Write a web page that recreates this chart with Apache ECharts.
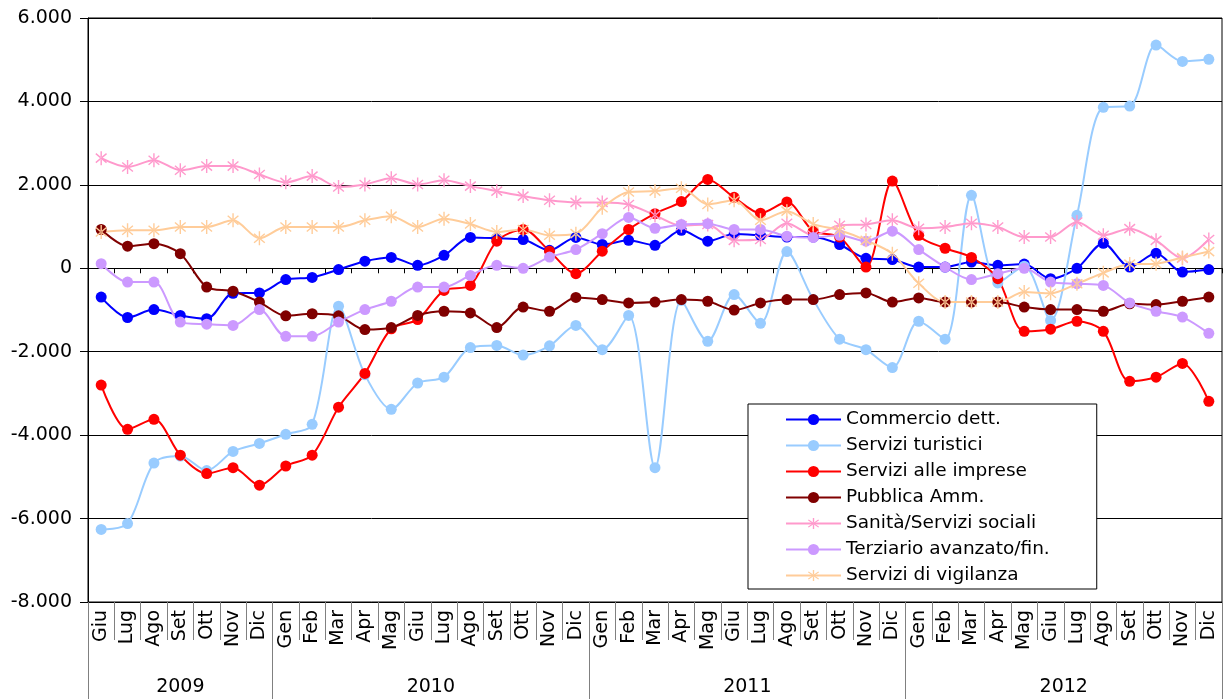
<!DOCTYPE html>
<html>
<head>
<meta charset="utf-8">
<script src="https://cdn.jsdelivr.net/npm/echarts@6/dist/echarts.min.js"></script>
<style>html,body{margin:0;padding:0;background:#fff;}#c{width:1225px;height:699px;}</style>
</head>
<body>
<div id="c"></div>
<script>
var months = ['Giu','Lug','Ago','Set','Ott','Nov','Dic',
  'Gen','Feb','Mar','Apr','Mag','Giu','Lug','Ago','Set','Ott','Nov','Dic',
  'Gen','Feb','Mar','Apr','Mag','Giu','Lug','Ago','Set','Ott','Nov','Dic',
  'Gen','Feb','Mar','Apr','Mag','Giu','Lug','Ago','Set','Ott','Nov','Dic'];
var years = ['2009','2010','2011','2012'];
var yearMonthCounts = [7,12,12,12];
var yTickValues = [-8000,-6000,-4000,-2000,0,2000,4000,6000];
var yTickLabels = ['-8.000','-6.000','-4.000','-2.000','0','2.000','4.000','6.000'];

var seriesNames = ['Commercio dett.','Servizi turistici','Servizi alle imprese','Pubblica Amm.','Sanità/Servizi sociali','Terziario avanzato/fin.','Servizi di vigilanza'];

var commercio = [-690,-1180,-990,-1130,-1210,-600,-590,
  -270,-220,-30,170,260,70,310,740,720,690,430,740,
  570,670,550,910,650,820,790,750,750,570,240,210,
  30,30,150,70,100,-250,0,600,30,360,-90,-30];
var turistici = [-6260,-6120,-4670,-4500,-4850,-4390,-4200,
  -3980,-3740,-910,-2550,-3380,-2750,-2610,-1900,-1850,-2080,-1860,-1370,
  -1950,-1130,-4780,-770,-1750,-630,-1320,400,-750,-1700,-1950,-2380,
  -1270,-1700,1750,-350,50,-1250,1270,3860,3890,5350,4960,5010];
var imprese = [-2800,-3860,-3620,-4480,-4920,-4780,-5200,
  -4740,-4480,-3330,-2520,-1450,-1230,-530,-410,650,930,410,-130,
  410,930,1310,1600,2130,1700,1320,1590,890,750,30,2090,
  790,480,260,-250,-1510,-1460,-1270,-1510,-2710,-2610,-2280,-3190];
var pubblica = [930,530,590,350,-450,-550,-810,
  -1140,-1090,-1140,-1470,-1420,-1130,-1030,-1070,-1420,-930,-1030,-700,
  -750,-830,-810,-750,-790,-1000,-830,-750,-750,-630,-590,-810,
  -710,-810,-810,-810,-930,-990,-990,-1030,-850,-870,-790,-690];
var sanita = [2640,2430,2590,2350,2450,2450,2250,
  2060,2210,1950,2010,2160,2010,2110,1970,1850,1730,1630,1580,
  1580,1530,1270,1020,1050,670,690,1080,790,1030,1050,1150,
  960,990,1080,990,750,750,1110,790,950,670,240,690];
var terziario = [110,-330,-330,-1290,-1340,-1370,-990,
  -1630,-1630,-1290,-990,-790,-450,-450,-170,70,0,270,450,
  830,1220,960,1050,1070,930,930,770,740,790,650,890,
  450,30,-270,-130,0,-330,-370,-410,-830,-1030,-1170,-1560];
var vigilanza = [870,910,910,990,990,1150,720,
  990,990,990,1150,1250,990,1190,1060,870,930,790,830,
  1450,1830,1850,1920,1530,1630,1150,1370,1060,910,670,350,
  -360,-810,-810,-810,-570,-600,-370,-110,100,110,260,400];

var seriesData = [commercio,turistici,imprese,pubblica,sanita,terziario,vigilanza];
var colors = ['#0000FF','#99CCFF','#FF0000','#800000','#FF99CC','#CC99FF','#FFCC99'];
var star = 'path://M-0.1,-1L0.1,-1L0.1,1L-0.1,1Z' +
  'M0.702,0.720L0.830,0.566L-0.702,-0.720L-0.830,-0.566Z' +
  'M0.830,-0.566L0.702,-0.720L-0.830,0.566L-0.702,0.720Z';
var symbols = ['circle','circle','circle','circle',star,'circle',star];

// year boundaries and centres in month units
var yearBounds = [0], yearCentres = [];
(function(){var acc=0;for(var i=0;i<yearMonthCounts.length;i++){yearCentres.push(acc+yearMonthCounts[i]/2);acc+=yearMonthCounts[i];yearBounds.push(acc);}})();

var FONT = 'DejaVu Sans';
var chart = echarts.init(document.getElementById('c'), null, {renderer:'canvas'});
var series = seriesData.map(function(d,i){
  var isStar = symbols[i] === star;
  return {
    name: seriesNames[i], type: 'line', data: d, xAxisIndex: 0, yAxisIndex: 0,
    smooth: 0.3, symbol: symbols[i], symbolSize: isStar ? 14 : 11, symbolKeepAspect: true,
    showAllSymbol: true, animation: false,
    lineStyle: {color: colors[i], width: 2},
    itemStyle: {color: colors[i], borderWidth: 0},
    emphasis: {disabled: true}
  };
});

chart.setOption({
  animation: false,
  backgroundColor: '#fff',
  grid: {left: 88, right: 3, top: 18, bottom: 97, show: true, borderColor: '#000', borderWidth: 1},
  legend: {
    orient: 'vertical', left: 748, top: 404,
    padding: [6, 47, 4, 37], itemWidth: 55, itemHeight: 14, itemGap: 7,
    backgroundColor: '#fff', borderColor: '#000', borderWidth: 1, borderRadius: 0,
    textStyle: {fontFamily: FONT, fontSize: 18.5, color: '#000'},
    data: seriesNames
  },
  xAxis: [
    {
      type: 'category', data: months, boundaryGap: true, position: 'bottom',
      axisLine: {onZero: false, lineStyle: {color: '#000', width: 1}},
      axisTick: {show: true, interval: 0, length: 38, lineStyle: {color: '#808080'}},
      axisLabel: {interval: 0, rotate: 90, margin: 8, fontFamily: FONT, fontSize: 19, color: '#000'},
      splitLine: {show: false}
    },
    {
      type: 'value', min: 0, max: 43, position: 'bottom', offset: 0,
      axisLine: {show: false, onZero: false},
      axisTick: {show: true, customValues: yearBounds, length: 97, lineStyle: {color: '#808080'}},
      axisLabel: {show: true, customValues: yearCentres, margin: 76, fontFamily: FONT, fontSize: 19, color: '#000',
        formatter: function(v){var k = yearCentres.indexOf(v); return k >= 0 ? years[k] : '';}},
      splitLine: {show: false}
    },
    {
      type: 'category', data: months, boundaryGap: true, position: 'bottom',
      axisLine: {show: true, onZero: true, onZeroAxisIndex: 0, lineStyle: {color: '#000', width: 1}},
      axisTick: {show: true, interval: 0, length: 5, lineStyle: {color: '#000'}},
      axisLabel: {show: false},
      splitLine: {show: false}
    }
  ],
  yAxis: [{
    type: 'value', min: -8000, max: 6000, interval: 2000,
    axisLine: {show: true, onZero: false, lineStyle: {color: '#000'}},
    axisTick: {show: true, length: 8, lineStyle: {color: '#000'}},
    axisLabel: {margin: 16, fontFamily: FONT, fontSize: 19, color: '#000',
      formatter: function(v){var k = yTickValues.indexOf(v); return k >= 0 ? yTickLabels[k] : '';}},
    splitLine: {show: true, lineStyle: {color: '#000', width: 1}}
  }],
  series: series
});
</script>
</body>
</html>
